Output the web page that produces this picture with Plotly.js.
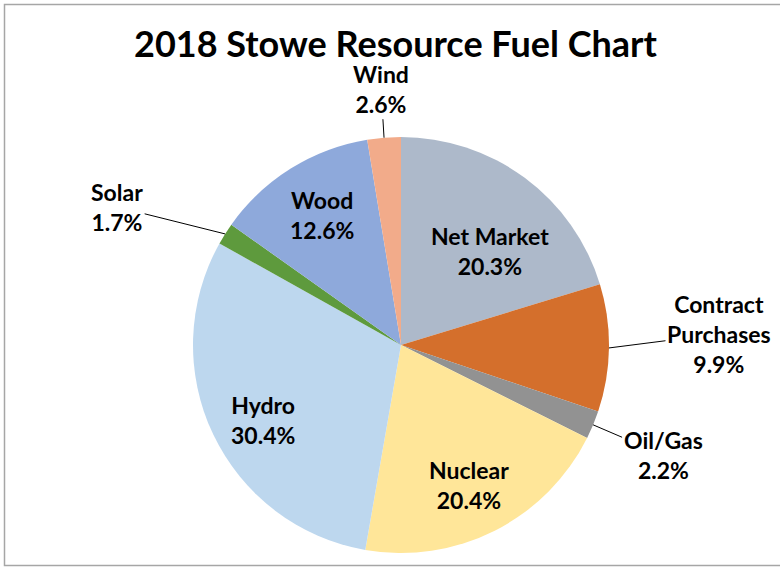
<!DOCTYPE html>
<html>
<head>
<meta charset="utf-8">
<script src="https://cdn.plot.ly/plotly-3.0.1.min.js"></script>
<style>html,body{margin:0;padding:0;background:#fff;}#chart{width:780px;height:567px;}</style>
</head>
<body>
<div id="chart"></div>
<script>
// Data
var categories = ["Net Market", "Contract<br>Purchases", "Oil/Gas", "Nuclear", "Hydro", "Solar", "Wood", "Wind"];
var shares = [20.3, 9.9, 2.2, 20.4, 30.4, 1.7, 12.6, 2.6];
var sliceColors = ["#adb9ca", "#d46f2c", "#929292", "#ffe699", "#bdd7ee", "#5e9a3d", "#8ea9db", "#f2ab8a"];
var titleText = "2018 Stowe Resource Fuel Chart";

var FONT = "Lato, 'Open Sans', sans-serif";
var W = 780, H = 567;
var cx = 401, cy = 345, R = 208;
var LABEL_SIZE = 23;

// label placement styles (per slice):
// inside labels: [radius fraction, angular nudge in degrees]; outside labels: pixel offset of text from slice edge
var insideStyle = {0: [0.62, 7], 3: [0.75, 1], 4: [0.755, -3], 6: [0.73, 0.7]};
var outsideOffsets = {1: [110, -14], 2: [70, 30], 5: [-108, -27], 7: [-3, -49]};

var texts = categories.map(function (c, i) { return c + "<br>" + shares[i].toFixed(1) + "%"; });

var total = shares.reduce(function (a, b) { return a + b; }, 0);
var annotations = [];
var cum = 0;
shares.forEach(function (v, i) {
  var mid = (cum + v / 2) / total;
  cum += v;
  var ang = mid * 2 * Math.PI;
  var font = {family: FONT, size: LABEL_SIZE, color: "#000", weight: "bold"};
  if (insideStyle[i]) {
    var st = insideStyle[i];
    var a2 = ang + st[1] * Math.PI / 180;
    var lx = cx + R * st[0] * Math.sin(a2);
    var ly = cy - R * st[0] * Math.cos(a2);
    annotations.push({
      xref: "paper", yref: "paper", x: lx / W, y: 1 - ly / H,
      xanchor: "center", yanchor: "middle",
      text: texts[i], showarrow: false, font: font, align: "center"
    });
    return;
  }
  var px = cx + R * Math.sin(ang);
  var py = cy - R * Math.cos(ang);
  var off = outsideOffsets[i];
  annotations.push({
    xref: "paper", yref: "paper",
    x: px / W, y: 1 - py / H,
    ax: off[0], ay: off[1],
    text: texts[i],
    showarrow: true, arrowhead: 0, arrowwidth: 1, arrowcolor: "#000",
    font: font, align: "center"
  });
});

var trace = {
  type: "pie",
  labels: categories,
  values: shares,
  sort: false,
  direction: "clockwise",
  rotation: 0,
  marker: {colors: sliceColors, line: {width: 0}},
  textinfo: "none",
  hoverinfo: "none",
  showlegend: false,
  domain: {x: [(cx - R) / W, (cx + R) / W], y: [1 - (cy + R) / H, 1 - (cy - R) / H]}
};

var layout = {
  width: W, height: H,
  margin: {l: 0, r: 0, t: 0, b: 0},
  paper_bgcolor: "#fff",
  showlegend: false,
  title: {
    text: "<b>" + titleText + "</b>",
    font: {family: FONT, size: 36, color: "#000"},
    x: 395.5 / W, xanchor: "center",
    y: 1 - 44 / H, yanchor: "middle", yref: "paper"
  },
  annotations: annotations,
  shapes: [{
    type: "rect", xref: "paper", yref: "paper",
    x0: 4.5 / W, x1: 1.05, y0: 1.5 / H, y1: 1 - 4.5 / H,
    line: {color: "#a6a6a6", width: 1.5}, fillcolor: "rgba(0,0,0,0)", layer: "below"
  }]
};

Plotly.newPlot("chart", [trace], layout, {displayModeBar: false, staticPlot: true});
</script>
</body>
</html>
